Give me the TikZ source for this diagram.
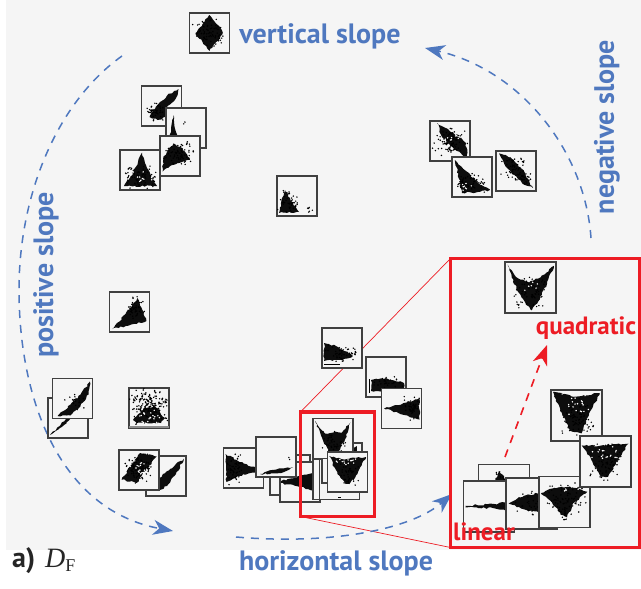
\documentclass[tikz,border=0pt]{standalone}
\usepackage{fontspec}
\setsansfont{PT Sans}
\newfontfamily\timesfont{Liberation Serif}
\usetikzlibrary{arrows.meta,decorations.pathmorphing}
\definecolor{slopeblue}{HTML}{4F78BF}
\definecolor{zoomred}{HTML}{ED1C24}
\newcommand{\FL}{\fontsize{28}{32}\selectfont\sffamily\bfseries}
\newcommand{\FR}{\fontsize{25}{28}\selectfont\sffamily\bfseries}
\newcommand{\tile}[4]{%
  \node[tile,minimum size=#3*2pt] (#1) at (#2) {};
  \begin{scope}[shift={(#2)},x=#3pt,y=-#3pt]
    \clip (-1,-1) rectangle (1,1);
    #4
  \end{scope}}
\newcommand{\speckle}[6][black]{%
  \fill[#1] foreach \i in {1,...,#6}
    {({#2+#4*(rnd+rnd-1)},{#3+#5*(rnd+rnd-1)}) circle (.8pt)
     ({#2+#4*(rnd+rnd-1)},{#3+#5*(rnd+rnd-1)}) circle (.8pt)};}
\begin{document}
\begin{tikzpicture}[x=1pt,y=-1pt]
\tikzstyle{texto}=[draw=none,fill=none,slopeblue,font=\FL,inner sep=0pt]
\tikzstyle{redtext}=[draw=none,fill=none,zoomred,font=\FR,inner sep=0pt]
\tikzstyle{tile}=[draw=black!75,fill=white!96!black,line width=1.2pt,inner sep=0pt]
\tikzstyle{blob}=[fill=black!95,decorate,decoration={random steps,segment length=2.5pt,amplitude=.9pt}]
\tikzstyle{sweep}=[slopeblue,line width=1.5pt,dash pattern=on 8pt off 7pt,-{Stealth[length=20pt,width=15pt,inset=6pt]}]
\tikzstyle{guide}=[zoomred,line width=.7pt]
\tikzstyle{redbox}=[zoomred,line width=3.4pt]
\pgfmathsetseed{11}

\useasboundingbox (0,0) rectangle (641,589);
\fill[black!4] (6,0) rectangle (641,550);

\coordinate (smallNW) at (300.5,412);
\coordinate (smallSE) at (374.5,516.5);
\coordinate (smallSW) at (300.5,516.5);
\coordinate (bigNW) at (450.5,258.5);
\coordinate (bigSE) at (640,547.5);
\coordinate (bigSW) at (450.5,547.5);
\coordinate (posFrom) at (122,56);
\coordinate (posTo) at (173,531);
\coordinate (horFrom) at (236,537);
\coordinate (horTo) at (452,494);
\coordinate (negFrom) at (591,238);
\coordinate (negTo) at (425,48);
\coordinate (quadFrom) at (505,457);
\coordinate (quadTo) at (547,345);

\draw[guide] (smallNW) -- (bigNW);
\draw[guide] (smallSW) -- (bigSW);
\draw[sweep] (posFrom) .. controls (60,100) and (19,190) .. (19,290) .. controls (19,400) and (60,510) .. (posTo);
\draw[sweep] (horFrom) .. controls (330,545) and (410,530) .. (horTo);
\draw[sweep] (negFrom) .. controls (585,150) and (520,70) .. (negTo);

% top and left groups
\tile{vs}{209.5,33}{20}{\fill[blob] (0,-.9)--(.55,-.25)--(.65,.05)--(.3,.5)--(0,.9)--(-.35,.45)--(-.7,.05)--(-.35,-.45)--cycle; \speckle{0}{0}{.85}{.7}{35}}
\tile{pa}{161.5,106}{20}{\fill[blob] (-.6,.55)--(-.2,-.05)--(.3,-.55)--(.85,-.85)--(.7,-.35)--(.3,0)--(.2,.55)--(-.2,.7)--cycle; \speckle{-.3}{.3}{.5}{.5}{25}}
\tile{pb}{186,128}{20}{\fill[blob] (-.62,-.65)--(-.5,.2)--(-.35,.6)--(-.9,.6)--(-.75,.2)--cycle; \speckle{0}{-.3}{.2}{.1}{1}}
\tile{pc}{140,170}{20}{\fill[blob] (.1,-.87)--(.35,-.1)--(.55,.3)--(.85,.8)--(-.8,.8)--(-.35,.2)--(-.1,-.4)--cycle; \speckle{0}{.35}{.95}{.6}{40}\speckle[white]{.1}{.4}{.5}{.4}{5}}
\tile{pd}{180,156}{20}{\fill[blob] (-.87,.78)--(-.83,.03)--(-.33,-.63)--(.1,-.4)--(.5,.2)--(.1,.3)--(-.66,.6)--cycle; \speckle{-.1}{-.1}{.85}{.7}{35}}
\tile{ce}{297,196}{20}{\fill[blob] (-.9,.85)--(-.75,.1)--(-.6,-.3)--(-.35,.1)--(-.1,.5)--(.1,.8)--cycle; \speckle{-.4}{.25}{.6}{.75}{22}\speckle{.6}{.7}{.3}{.2}{3}}

% negative group
\tile{na}{450,141}{20}{\fill[blob] (-.65,-.9)--(-.1,-.6)--(.8,.1)--(.85,.85)--(.2,.4)--(-.4,-.2)--cycle; \speckle{0}{0}{.95}{.8}{45}\speckle[white]{.05}{0}{.6}{.6}{6}}
\tile{nb}{472,177}{20}{\fill[blob] (-.85,-.85)--(-.3,-.3)--(.3,.3)--(.9,.65)--(.3,.75)--(-.5,.8)--(-.65,.1)--cycle; \speckle{-.1}{.3}{.8}{.55}{30}\speckle[white]{-.2}{.5}{.4}{.3}{4}}
\tile{nc}{516,171}{20}{\fill[blob] (-.85,-.88)--(-.3,-.7)--(.3,-.1)--(.85,.85)--(.3,.6)--(-.4,-.1)--cycle; \speckle{-.1}{-.1}{.7}{.7}{28}\speckle{.4}{.4}{.4}{.4}{12}}

% positive group
\tile{pe}{129.5,312}{20}{\fill[blob] (-.85,.85)--(-.2,.1)--(.4,-.7)--(.85,.45)--(.2,.6)--cycle; \speckle{.35}{-.2}{.5}{.7}{25}}
\tile{pf}{68,418}{20}{\fill[blob] (-.9,.85)--(-.1,.05)--(.2,-.1)--(-.2,.35)--cycle;}
\tile{pg}{72.5,398.5}{20}{\fill[blob] (-.75,.88)--(-.1,.3)--(.4,-.2)--(.87,-.85)--(.8,-.2)--(.3,.5)--(-.1,.85)--cycle; \speckle{.2}{.1}{.6}{.6}{10}}
\tile{cl}{149,408}{20}{\fill[blob] (-.8,.6)--(-.3,.05)--(.3,-.1)--(.8,.5)--(.6,.75)--(-.6,.75)--cycle; \speckle{0}{-.1}{1}{1}{95}\speckle[white]{0}{.4}{.7}{.4}{10}\fill[black!45] (-1,.92) rectangle (1,1);}
\tile{ph}{166,476}{20}{\fill[blob] (-.4,.75)--(-.35,.1)--(.2,-.35)--(.9,-.87)--(.5,-.1)--(.05,.5)--cycle;}
\tile{pi}{139,470}{20}{\fill[blob] (-.87,.48)--(.05,-.85)--(.88,-.68)--(-.12,.65)--cycle; \speckle{0}{-.1}{.9}{.85}{45}\speckle[white]{0}{-.1}{.5}{.5}{10}}

% horizontal group
\tile{ha}{243.5,468}{20}{\fill[blob] (-.9,-.7)--(-.2,-.3)--(.75,.05)--(.75,.2)--(-.2,.4)--(-.85,.7)--cycle; \speckle{-.5}{0}{.5}{.85}{30}}
\tile{hb}{290,475}{20}{}
\tile{hc}{300,482}{20}{\fill[blob] (-.95,-.05)--(0,-.3)--(.9,-.45)--(.9,.45)--(0,.25)--(-.95,.05)--cycle;}
\tile{hd}{276,457}{20}{\fill[blob] (-.8,.85)--(-.2,.65)--(.85,.5)--(.4,.75)--(-.3,.85)--cycle; \speckle{.7}{.1}{.1}{.1}{1}}
\tile{he}{342,348}{20}{\fill[blob] (-.9,-.25)--(-.3,-.1)--(.55,.4)--(0,.6)--(-.9,.65)--cycle; \fill (-.9,.82) rectangle (-.1,.87); \speckle{0}{.25}{.95}{.5}{25}}
\tile{hf}{386,377}{20}{\fill[blob] (-.75,.15)--(0,.05)--(.9,.3)--(.9,.55)--(0,.8)--(-.75,.7)--cycle; \fill (-.85,.1) rectangle (-.78,.8); \speckle{.1}{.3}{.85}{.4}{16}}
\tile{hg}{401.5,408.5}{20}{\fill[blob] (-.87,0)--(.9,-.5)--(.9,.55)--cycle; \speckle{.5}{0}{.45}{.7}{22}}

% inside the small frame
\tile{qa}{333,479.5}{20}{}
\tile{qb}{339.5,479.5}{20}{\fill (-.1,.85) rectangle (.05,.9);}
\tile{qc}{342,463}{20}{\fill[blob] (.1,-.2)--(.75,-.85)--(.8,0)--(.3,.2)--cycle;}
\tile{qd}{333,438.5}{20}{\fill[blob] (-.9,-.88)--(-.4,-.25)--(0,-.3)--(.45,-.3)--(.87,-.8)--(.6,.05)--(.2,.75)--(-.1,.8)--(-.5,.1)--cycle; \speckle{0}{.2}{.65}{.7}{22}}
\tile{qe}{347.5,472}{20}{\fill[blob] (-.92,-.8)--(-.3,-.65)--(.4,-.7)--(.93,-.75)--(.5,.1)--(.1,.6)--(-.1,.6)--(-.5,.1)--cycle; \speckle{0}{.1}{.6}{.75}{22}\speckle[white]{0}{-.5}{.8}{.3}{7}}

\draw[redbox] (smallNW) rectangle (smallSE);

% enlarged tiles
\fill[black!4] (bigNW) rectangle (bigSE);
\tile{za}{530.5,287.5}{25.5}{\fill[blob] (-.9,-.9)--(-.55,-.4)--(-.05,-.2)--(.4,-.4)--(.92,-.85)--(.65,-.15)--(.3,.55)--(.05,.9)--(-.2,.6)--(-.55,.05)--cycle; \speckle{0}{.15}{.7}{.8}{35}\speckle[white]{0}{-.1}{.35}{.3}{3}}
\tile{zb}{504,490}{25.5}{\fill[blob] (-.2,-.75)--(0,-.55)--(.1,-.35)--(-.35,-.35)--cycle; \speckle{-.1}{-.5}{.3}{.3}{6}}
\tile{zc}{489,506.5}{25.5}{\fill[blob] (-.92,-.03)--(.2,-.1)--(.9,-.2)--(.9,.2)--(.2,.07)--(-.92,.04)--cycle;}
\tile{zd}{531.5,503.5}{25.5}{\fill[blob] (-.9,0)--(-.3,-.3)--(.4,-.45)--(.9,-.4)--(.9,.4)--(.3,.35)--(-.4,.2)--cycle;\speckle{0}{0}{.7}{.5}{16}}
\tile{ze}{564.5,502}{25.5}{\fill[blob] (-.92,-.35)--(-.4,-.55)--(.2,-.6)--(.9,-.4)--(.4,0)--(.1,.6)--(-.15,.5)--(-.5,0)--cycle; \speckle{0}{-.1}{.85}{.7}{40}\speckle{0}{.5}{.1}{.35}{6}\speckle[white]{0}{-.55}{.6}{.12}{3}}
\tile{zf}{576.5,415.5}{25.5}{\fill[blob] (-.92,-.93)--(-.2,-.75)--(.3,-.8)--(.92,-.87)--(.5,-.1)--(.2,.7)--(-.25,.6)--(-.55,0)--cycle; \speckle{0}{.1}{.7}{.85}{40}\speckle[white]{0}{-.4}{.7}{.5}{10}}
\tile{zg}{605.5,461.5}{25.5}{\fill[blob] (-.93,-.63)--(-.2,-.62)--(.3,-.68)--(.9,-.7)--(.5,-.05)--(.1,.6)--(-.15,.6)--(-.55,-.05)--cycle; \speckle{0}{0}{.7}{.8}{40}\speckle[white]{0}{-.35}{.7}{.45}{10}}

\draw[redbox] (bigNW) rectangle (bigSE);
\draw[guide,line width=1.6pt,dash pattern=on 8pt off 7pt,-{Stealth[length=20pt,width=15pt,inset=6pt]}] (quadFrom) -- (quadTo);

\node[texto] (vertical) at (320,36) {vertical slope};
\node[texto,rotate=90] (negative) at (607,127) {negative slope};
\node[texto,rotate=90] (positive) at (46,275) {positive slope};
\node[texto] (horizontal) at (336,563) {horizontal slope};
\node[redtext] (quadratic) at (586,328) {quadratic};
\node[redtext] (linear) at (484,532) {linear};
\node[inner sep=0pt,anchor=west,text=black!85] (panel) at (12,561) {\FL a)\hspace{10pt}{\timesfont\mdseries\itshape D}\raisebox{-4pt}{\timesfont\mdseries\fontsize{18}{20}\selectfont F}};
\end{tikzpicture}
\end{document}
